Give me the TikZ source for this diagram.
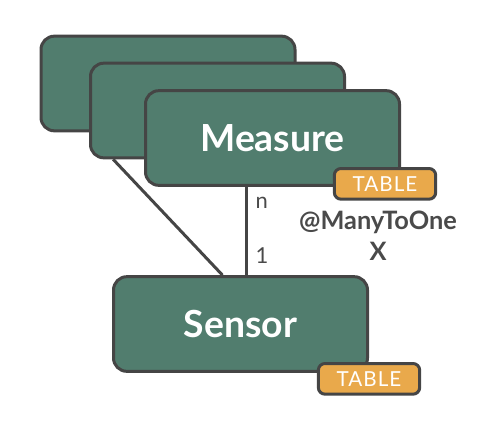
\documentclass[tikz,border=0pt]{standalone}
\usepackage{fontspec}
\setmainfont{Lato}
\usepackage{xcolor}
\definecolor{EntityGreen}{HTML}{517D6E}
\definecolor{EntityEdge}{HTML}{454545}
\definecolor{TagAmber}{HTML}{E9A94B}
\definecolor{NoteGray}{HTML}{4A4A4A}
\usepackage{tikz}
\usetikzlibrary{positioning,calc}
\tikzset{
  entity/.style={draw=EntityEdge,fill=EntityGreen,line width=2.25pt,rounded corners=10pt,minimum width=190.5pt,minimum height=71pt,text=white,font=\fontsize{28}{32}\selectfont\bfseries},
  tabletag/.style={draw=EntityEdge,fill=TagAmber,line width=2.25pt,rounded corners=5pt,minimum width=76pt,minimum height=23pt,inner sep=0pt,text=white,font=\fontsize{15.5}{18}\selectfont\addfontfeatures{LetterSpace=5}},
  relline/.style={draw=EntityEdge,line width=2.25pt},
  mult/.style={text=NoteGray,font=\fontsize{16.5}{18}\selectfont,inner sep=1pt},
  relnote/.style={text=NoteGray,align=center,font=\fontsize{19}{23}\selectfont\bfseries}
}
\begin{document}
\begin{tikzpicture}[x=0.75pt,y=-0.75pt]
  \useasboundingbox (0,0) rectangle (477,444);
  \node[entity] (back) at (168,83.5) {};
  \node[entity] (mid) at (217.5,110.5) {};
  \node[entity] (measure) at (272.5,138) {Measure};
  \node[tabletag] (measuretag) at ($(measure.south east)+(-16,-3)$) {TABLE};
  \node[entity] (sensor) at (240.5,324) {Sensor};
  \node[tabletag] (sensortag) at ($(sensor.south east)+(0,6)$) {TABLE};
  \coordinate (top) at ($(measure.south west)!0.4!(measure.south east)$);
  \draw[relline] (top) -- (top |- sensor.north);
  \draw[relline] ($(mid.south west)!0.094!(mid.south east)$) -- ($(sensor.north west)!0.43!(sensor.north east)$);
  \node[mult,anchor=west] (many) at (254,203) {n};
  \node[mult,anchor=west] (one) at (254,256) {1};
  \node[relnote] (manytoone) at (378,236) {@ManyToOne\\X};
\end{tikzpicture}
\end{document}
